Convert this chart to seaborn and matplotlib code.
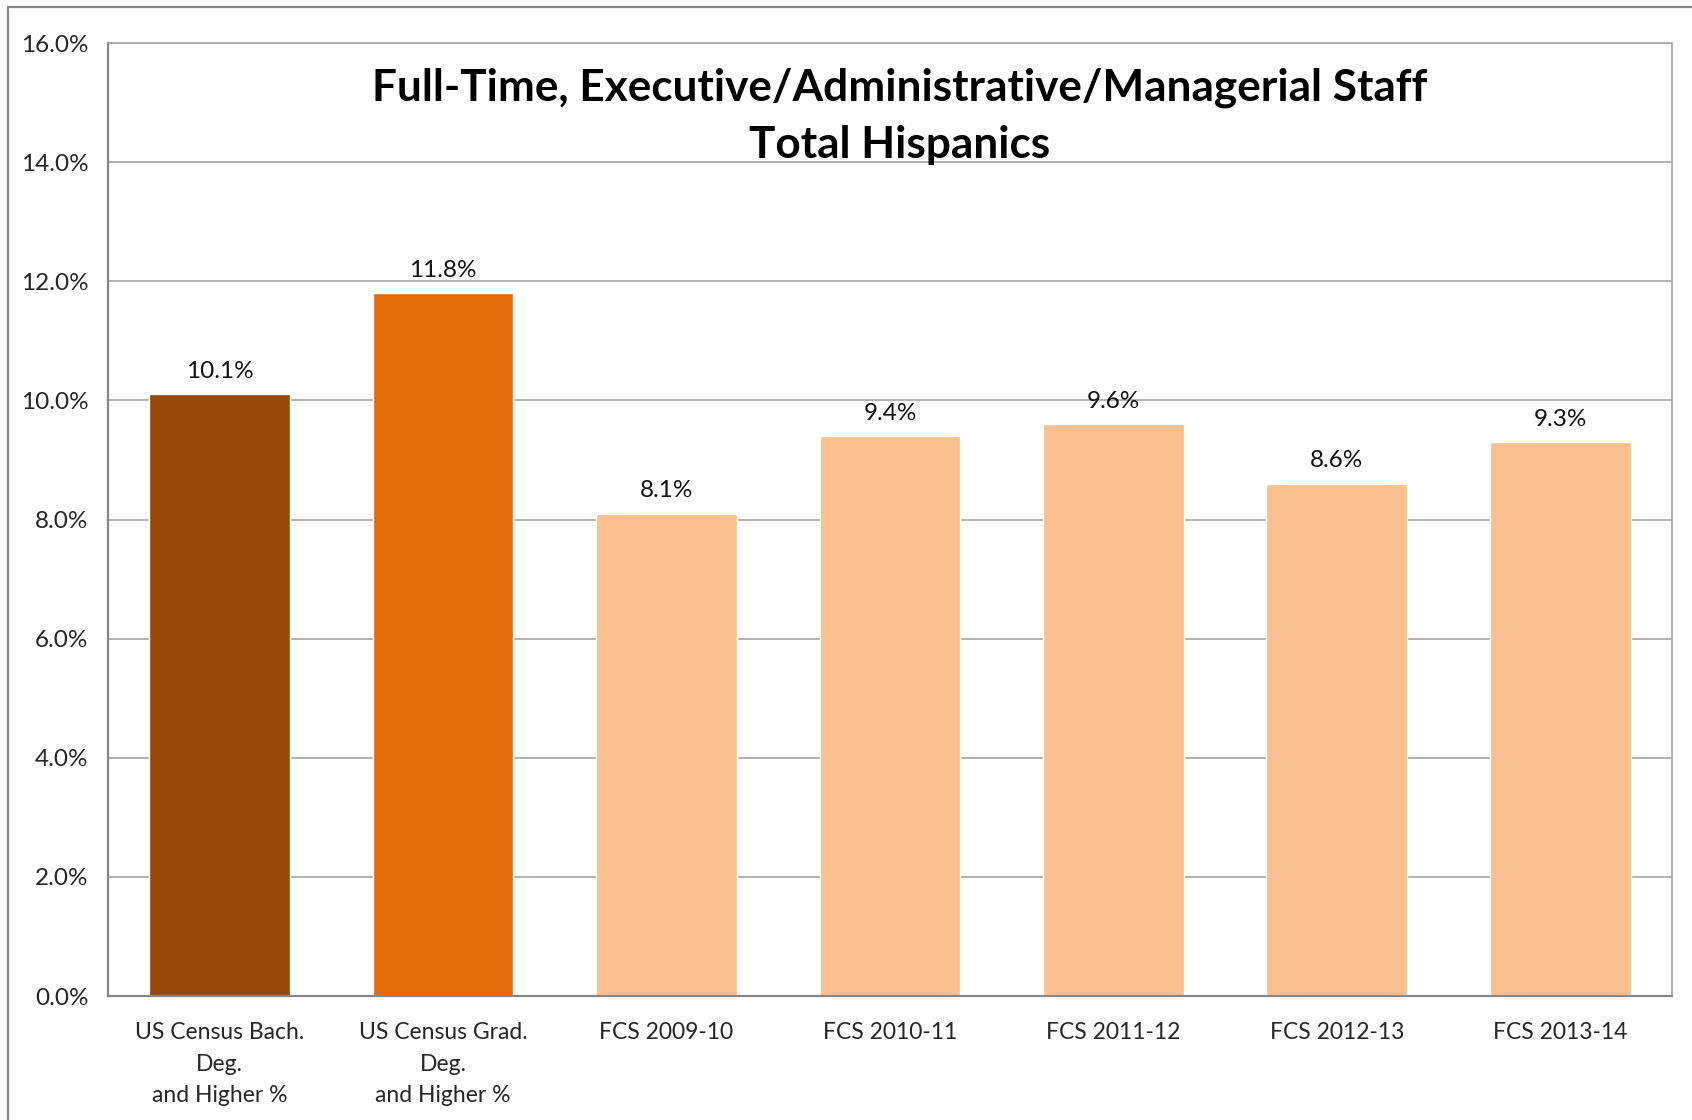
import numpy as np
import pandas as pd
import matplotlib
matplotlib.use("Agg")
import matplotlib.pyplot as plt
import seaborn as sns
from matplotlib.ticker import FixedLocator, PercentFormatter

# Dane
categories = ["US Census Bach.\nDeg.\nand Higher %", "US Census Grad.\nDeg.\nand Higher %",
              "FCS 2009-10", "FCS 2010-11", "FCS 2011-12", "FCS 2012-13", "FCS 2013-14"]
values = [10.1, 11.8, 8.1, 9.4, 9.6, 8.6, 9.3]
bar_colors = ["#974706", "#E36C0A", "#FAC090", "#FAC090", "#FAC090", "#FAC090", "#FAC090"]
y_ticks = [0, 2, 4, 6, 8, 10, 12, 14, 16]
title = "Full-Time, Executive/Administrative/Managerial Staff\nTotal Hispanics"

sns.set_style("white")
plt.rcParams['font.family'] = ['Lato', 'DejaVu Sans']

df = pd.DataFrame({"cat": categories, "val": values})

fig = plt.figure(figsize=(16.92, 11.2), dpi=100)
ax = fig.add_axes([0.0638, 0.1107, 0.9244, 0.8509])

sns.barplot(data=df, x="cat", y="val", hue="cat", palette=bar_colors,
            legend=False, width=0.63, saturation=1, ax=ax)

for cont in ax.containers:
    ax.bar_label(cont, fmt="%.1f%%", padding=9, fontsize=17.5, color="#111111")

ax.set_ylim(0, 16)
ax.set_xlim(-0.5, len(categories) - 0.5)
ax.set_yticks(y_ticks)
ax.yaxis.set_major_formatter(PercentFormatter(decimals=1))
ax.yaxis.grid(True, color="#A6A6A6", linewidth=1.2)
ax.set_axisbelow(True)

ax.xaxis.set_minor_locator(FixedLocator(np.arange(-0.5, len(categories), 1.0)))
ax.tick_params(axis="x", which="major", length=0, pad=19, labelsize=16.5)
ax.tick_params(axis="x", which="minor", length=8, width=1.5, color="#878787", direction="out")
ax.tick_params(axis="y", length=8, width=1.5, color="#878787", direction="out", labelsize=17.5, pad=6)
for lbl in ax.get_xticklabels():
    lbl.set_linespacing(1.62)
ax.set_xlabel("")
ax.set_ylabel("")

for side in ["left", "bottom"]:
    ax.spines[side].set_color("#878787")
    ax.spines[side].set_linewidth(1.6)
for side in ["top", "right"]:
    ax.spines[side].set_visible(True)
    ax.spines[side].set_color("#A6A6A6")
    ax.spines[side].set_linewidth(1.2)

ax.text(0.506, 0.923, title, transform=ax.transAxes, ha="center", va="center",
        fontsize=31.8, fontweight="bold", linespacing=1.5, color="black")

# Ramka obszaru wykresu
fig.add_artist(plt.Line2D([0.0047, 0.0047], [0, 0.9937], color="#878787", linewidth=1.6,
                          transform=fig.transFigure))
fig.add_artist(plt.Line2D([0.0047, 1.0], [0.9937, 0.9937], color="#878787", linewidth=1.6,
                          transform=fig.transFigure))

fig.savefig("out.png", dpi=100)
